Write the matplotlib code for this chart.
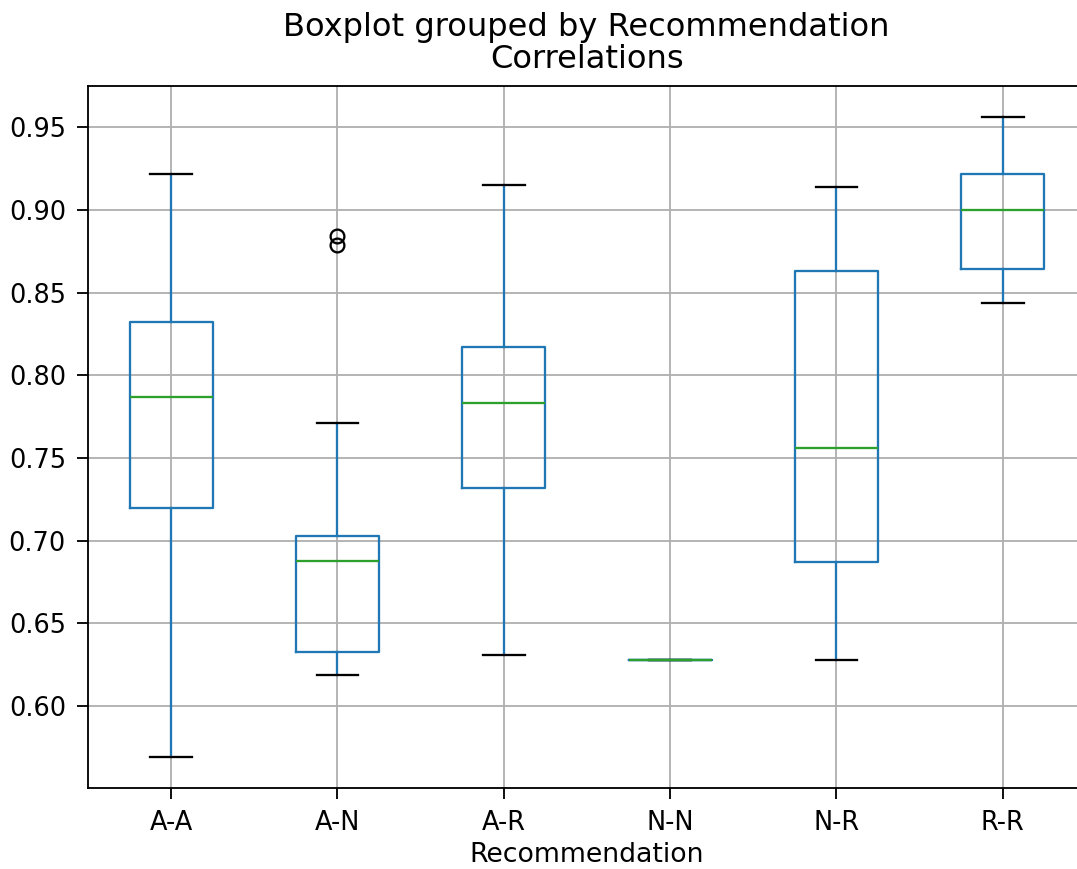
import matplotlib
matplotlib.use("Agg")
import matplotlib.pyplot as plt

# values
categories = ["A-A", "A-N", "A-R", "N-N", "N-R", "R-R"]
whisker_low = [0.569, 0.619, 0.631, 0.628, 0.628, 0.844]
q1 = [0.720, 0.633, 0.732, 0.628, 0.687, 0.864]
median = [0.787, 0.688, 0.783, 0.628, 0.756, 0.900]
q3 = [0.832, 0.703, 0.817, 0.628, 0.863, 0.922]
whisker_high = [0.922, 0.771, 0.915, 0.628, 0.914, 0.956]
outliers = [[], [0.879, 0.884], [], [], [], []]

stats = []
for i, name in enumerate(categories):
    stats.append({
        "label": name,
        "whislo": whisker_low[i],
        "q1": q1[i],
        "med": median[i],
        "q3": q3[i],
        "whishi": whisker_high[i],
        "fliers": outliers[i],
    })

plt.rcParams["font.size"] = 11.2
plt.rcParams["xtick.major.size"] = 4.8
plt.rcParams["ytick.major.size"] = 4.8
plt.rcParams["xtick.major.pad"] = 4.8
plt.rcParams["ytick.major.pad"] = 4.8

dpi = 165
fig = plt.figure(figsize=(1077 / dpi, 869 / dpi), dpi=dpi)
# the reference is cropped just before the right spine
ax = fig.add_axes([0.0817, 0.0932, 0.9266, 0.808])

ax.bxp(stats, widths=0.5,
       boxprops=dict(color="C0"),
       whiskerprops=dict(color="C0"),
       medianprops=dict(color="C2"),
       capprops=dict(color="k"),
       flierprops=dict(marker="o", markeredgecolor="k", markerfacecolor="none"))

ax.grid(True)
ax.set_ylim(0.5505, 0.975)
ax.set_xlabel("Recommendation", fontsize=11.7, labelpad=2.5)
ax.set_title("Correlations", pad=8, fontsize=14)
fig.suptitle("Boxplot grouped by Recommendation", x=0.544, y=0.986, fontsize=14)

fig.savefig("out.png", dpi=dpi)
